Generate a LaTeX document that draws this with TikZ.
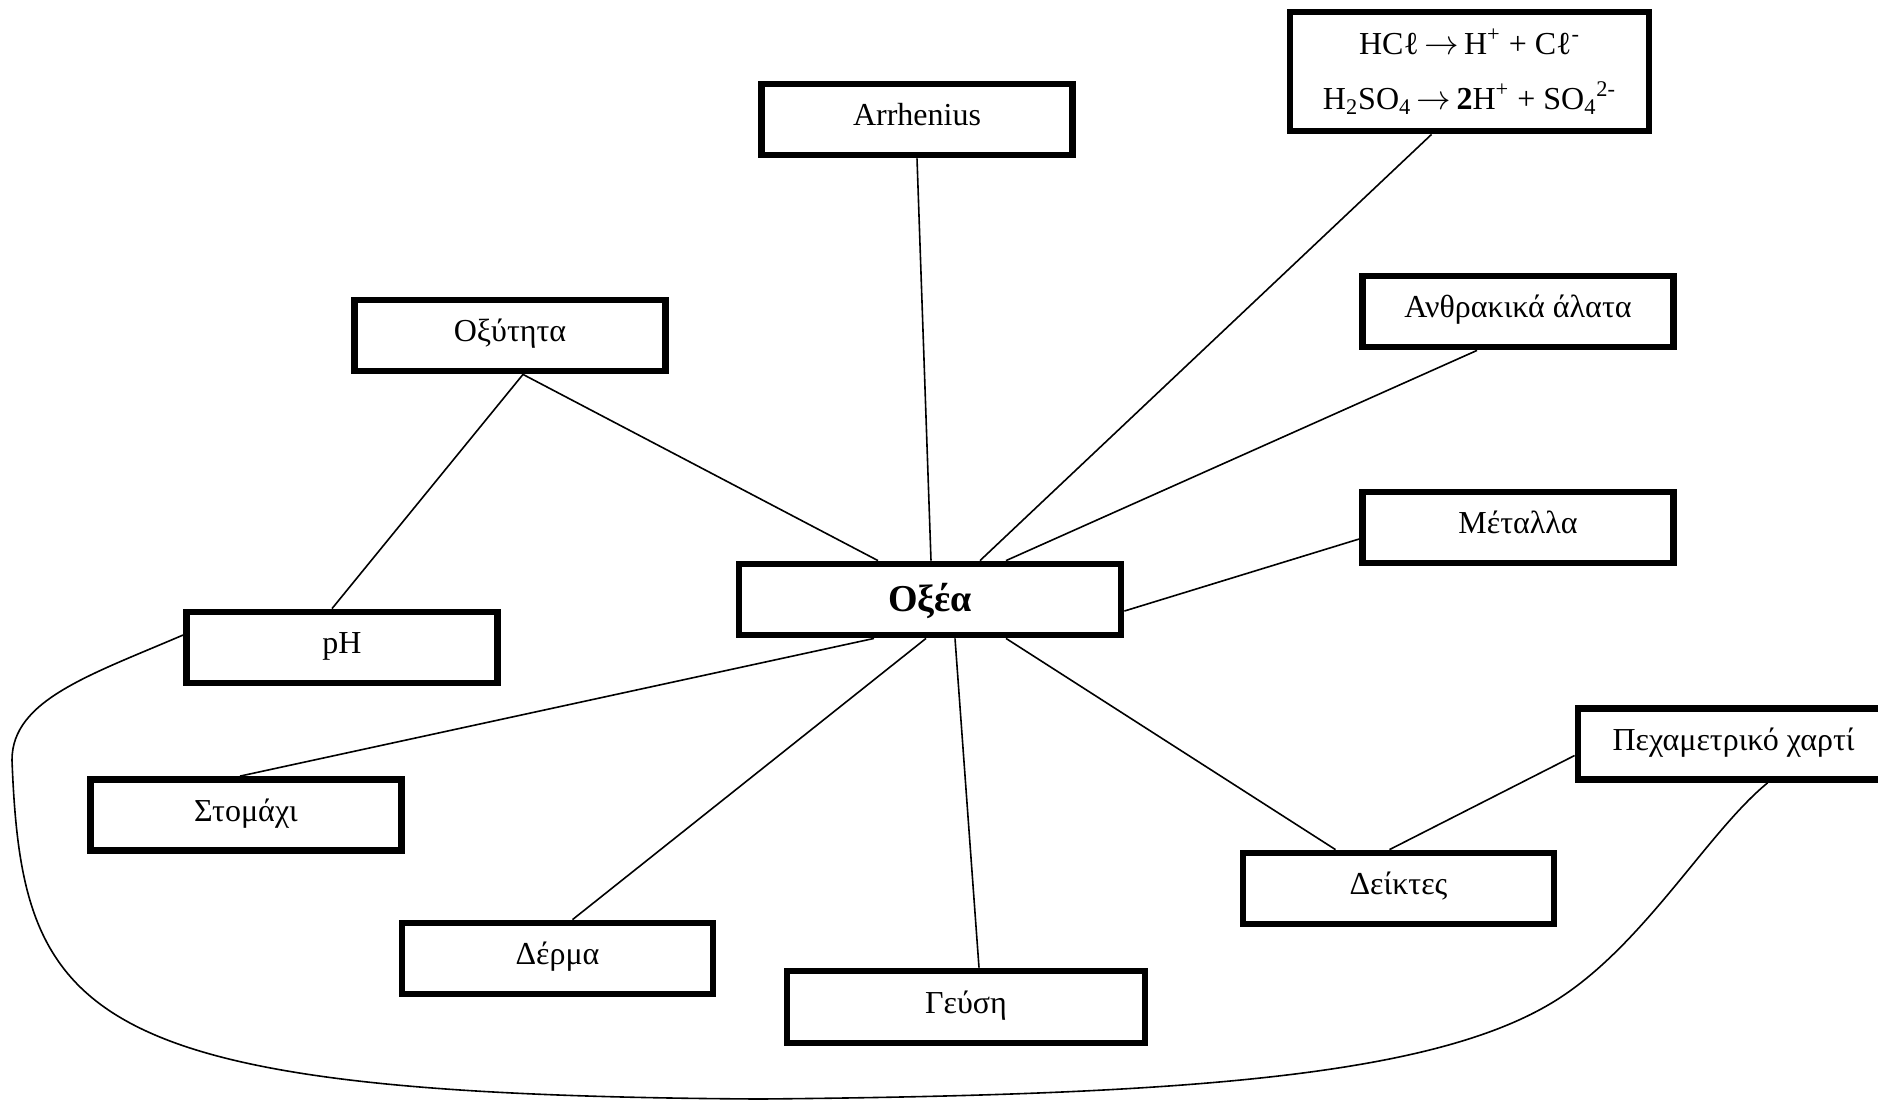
\documentclass[tikz,border=0pt]{standalone}
\usepackage{fontspec}
\setmainfont{Liberation Serif}
\usepackage{tikz}
\usetikzlibrary{calc}
\tikzset{
  conceptbox/.style={draw, line width=3.4pt, rectangle, inner sep=0pt,
    minimum width=155.5pt, minimum height=35.5pt, font=\fontsize{16}{19}\selectfont},
  evenbase/.style={text height=12pt, text depth=6pt},
  link/.style={line width=0.8pt}
}
\newcommand{\concept}[3]{\node[conceptbox, evenbase] (#1) at (#2) {#3};}

\begin{document}
\begin{tikzpicture}[x=0.5pt, y=-0.5pt]
        \useasboundingbox (0,0) rectangle (1878,1100);
        % centre
        \node[conceptbox, minimum width=191pt, text height=16pt, text depth=4pt,
              font=\fontsize{19}{22}\selectfont\bfseries] (oxea) at (930,599.5) {Οξέα};
        % top
        \concept{arr}{917,119.5}{Arrhenius}
        \node[conceptbox, minimum width=179.5pt, minimum height=59.5pt, align=center,
              font=\fontsize{16}{27.5}\selectfont] (form) at (1469.5,71.5)
              {HCℓ\,$\rightarrow$\,H\textsuperscript{+} + Cℓ\textsuperscript{-}\\
               H\textsubscript{2}SO\textsubscript{4}\,$\rightarrow$\,\textbf{2}H\textsuperscript{+} + SO\textsubscript{4}\textsuperscript{2-}};
        \concept{oxyt}{510,335.5}{Οξύτητα}
        \concept{anthr}{1518,311.5}{Ανθρακικά άλατα}
        \concept{metal}{1518,527.5}{Μέταλλα}
        % bottom
        \concept{ph}{342,647.5}{pH}
        \concept{stom}{246,815}{Στομάχι}
        \concept{pex}{1733.5,744}{Πεχαμετρικό χαρτί}
        \concept{deik}{1398.5,888.5}{Δείκτες}
        \concept{derma}{557.5,958.5}{Δέρμα}
        \node[conceptbox, evenbase, minimum width=179pt, minimum height=36pt] (geusi) at (966,1007) {Γεύση};
        % links
        \draw[link] (arr.south) -- ([xshift=0.5pt]oxea.north);
        \draw[link] ([xshift=-19pt]form.south) -- ([xshift=25pt]oxea.north);
        \draw[link] ([xshift=-20.5pt]anthr.south) -- ([xshift=38pt]oxea.north);
        \draw[link] ([yshift=-5.75pt]metal.west) -- ([yshift=-5.75pt]oxea.east);
        \draw[link] ([xshift=6.5pt]oxyt.south) -- ([xshift=-26pt]oxea.north);
        \draw[link] ([xshift=6.5pt]oxyt.south) -- ([xshift=-5pt]ph.north);
        \draw[link] ([xshift=-28pt]oxea.south) -- ([xshift=-3pt]stom.north);
        \draw[link] ([xshift=-2pt]oxea.south) -- ([xshift=7.5pt]derma.north);
        \draw[link] ([xshift=12.5pt]oxea.south) -- ([xshift=6.5pt]geusi.north);
        \draw[link] ([xshift=38pt]oxea.south) -- ([xshift=-31.5pt]deik.north);
        \draw[link] ([yshift=-5.75pt]pex.west) -- ([xshift=-4.5pt]deik.north);
        % long curve
        \draw[link] ([yshift=6.25pt]ph.west) .. controls (90,675) and (12,700) .. (12,760)
            .. controls (22,1020) and (80,1095) .. (760,1099)
            .. controls (1200,1095) and (1450,1075) .. (1567,993)
            .. controls (1649,936) and (1710,830) .. ([xshift=17pt]pex.south);
\end{tikzpicture}
\end{document}
